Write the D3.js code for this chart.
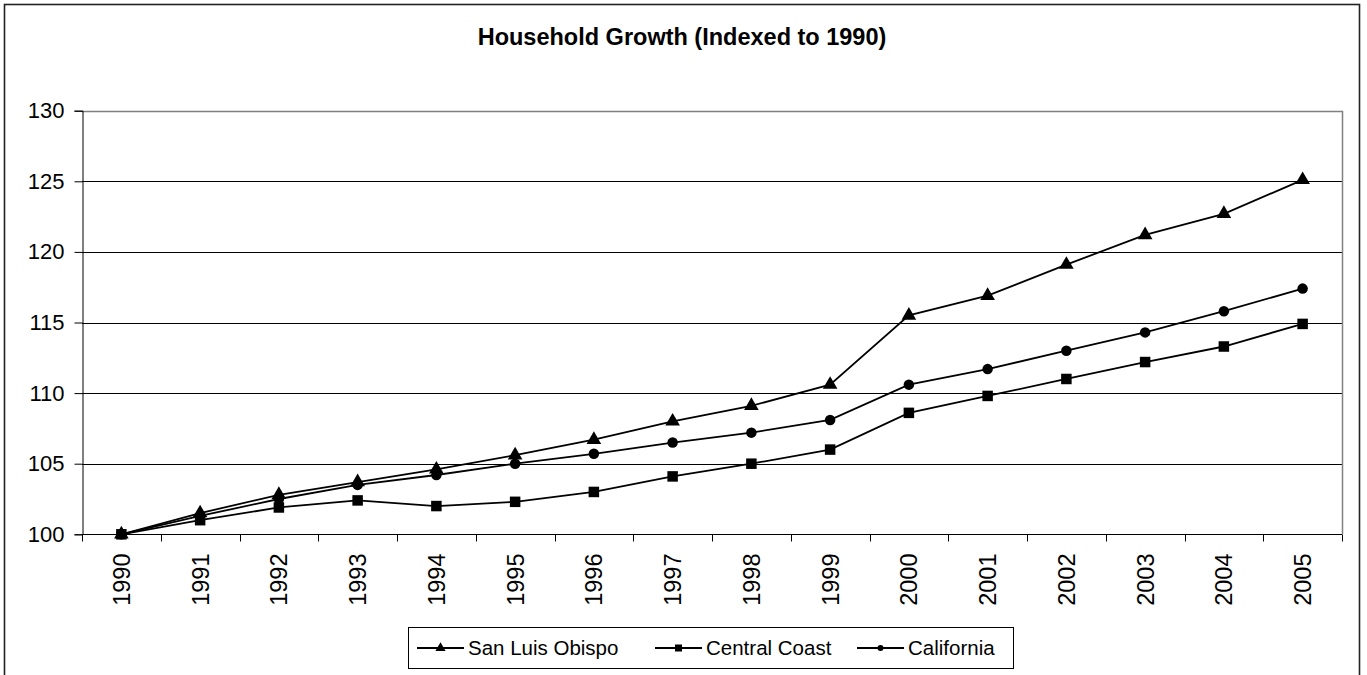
<!DOCTYPE html>
<html>
<head>
<meta charset="utf-8">
<script src="https://cdn.jsdelivr.net/npm/d3@7"></script>
<style>
  body { margin: 0; background: #fff; }
  svg { display: block; font-family: "Liberation Sans", Arial, sans-serif; }
</style>
</head>
<body>
<svg id="chart" width="1367" height="675"></svg>
<script>
const title = "Household Growth (Indexed to 1990)";
const years = ["1990","1991","1992","1993","1994","1995","1996","1997","1998","1999","2000","2001","2002","2003","2004","2005"];
const sanLuisObispo = [100, 101.5, 102.8, 103.7, 104.6, 105.6, 106.7, 108.0, 109.1, 110.6, 115.5, 116.9, 119.1, 121.2, 122.7, 125.1];
const centralCoast  = [100, 101.0, 101.9, 102.4, 102.0, 102.3, 103.0, 104.1, 105.0, 106.0, 108.6, 109.8, 111.0, 112.2, 113.3, 114.9];
const california    = [100, 101.3, 102.5, 103.5, 104.2, 105.0, 105.7, 106.5, 107.2, 108.1, 110.6, 111.7, 113.0, 114.3, 115.8, 117.4];
const yTicks = [100, 105, 110, 115, 120, 125, 130];
const seriesNames = ["San Luis Obispo", "Central Coast", "California"];
const seriesShapes = ["triangle", "square", "circle"];

const series = [
  { name: seriesNames[0], shape: seriesShapes[0], values: sanLuisObispo },
  { name: seriesNames[1], shape: seriesShapes[1], values: centralCoast },
  { name: seriesNames[2], shape: seriesShapes[2], values: california }
];

const svg = d3.select("#chart");
const L = 82, R = 1342, T = 110.7, B = 534.3;

// outer frame
svg.append("rect").attr("x", 4.5).attr("y", 4.5).attr("width", 1355).attr("height", 690)
  .attr("fill", "none").attr("stroke", "#222").attr("stroke-width", 1.6);

svg.append("text").attr("x", 682).attr("y", 45).attr("text-anchor", "middle")
  .attr("font-weight", "bold").attr("font-size", 23.5).attr("fill", "#000").text(title);

const x = d3.scaleBand().domain(years).range([L, R]).paddingInner(0).paddingOuter(0);
const cx = d => x(d) + x.bandwidth() / 2;
const y = d3.scaleLinear().domain([100, 130]).range([B, T]);

// gridlines
svg.append("g").selectAll("line").data(yTicks.slice(1)).join("line")
  .attr("x1", L).attr("x2", R)
  .attr("y1", d => Math.round(y(d)) + 0.5).attr("y2", d => Math.round(y(d)) + 0.5)
  .attr("stroke", d => d === 130 ? "#808080" : "#000").attr("stroke-width", d => d === 130 ? 1.5 : 1);

// plot border right
svg.append("line").attr("x1", R + 0.5).attr("x2", R + 0.5).attr("y1", T).attr("y2", B)
  .attr("stroke", "#808080").attr("stroke-width", 1.5);

// y axis
const yAxis = d3.axisLeft(y).tickValues(yTicks).tickSize(8).tickFormat(d3.format("d"));
const gy = svg.append("g").attr("transform", `translate(${L + 0.5},0)`).call(yAxis);
gy.select(".domain").attr("stroke", "#000");
gy.selectAll(".tick line").attr("stroke", "#000");
gy.selectAll(".tick text").attr("font-size", 22).attr("fill", "#000")
  .attr("font-family", "Liberation Sans, Arial, sans-serif").attr("x", -18);

// x axis (labels at category centres, ticks at category boundaries)
const gx = svg.append("g").attr("transform", `translate(0,${Math.round(B) + 0.5})`);
gx.append("line").attr("x1", L).attr("x2", R).attr("stroke", "#000");
const bounds = years.map(d => x(d)).concat([x(years[years.length - 1]) + x.bandwidth()]);
gx.selectAll("line.tk").data(bounds).join("line").attr("class", "tk")
  .attr("x1", d => Math.round(d) + 0.5).attr("x2", d => Math.round(d) + 0.5)
  .attr("y1", 0).attr("y2", 7).attr("stroke", "#000");
gx.selectAll("text").data(years).join("text")
  .attr("transform", d => `translate(${cx(d)},19) rotate(-90)`)
  .attr("text-anchor", "end").attr("dy", "0.36em")
  .attr("font-size", 23.5).attr("fill", "#000").text(d => d);

// markers
function drawMarker(g, shape, px, py, s) {
  if (shape === "triangle") {
    g.append("path").attr("d", d3.symbol(d3.symbolTriangle, s * s * 0.55)()).attr("transform", `translate(${px},${py})`).attr("fill", "#000");
  } else if (shape === "square") {
    g.append("rect").attr("x", px - s / 2).attr("y", py - s / 2).attr("width", s).attr("height", s).attr("fill", "#000");
  } else {
    g.append("circle").attr("cx", px).attr("cy", py).attr("r", s / 2).attr("fill", "#000");
  }
}

const line = d3.line().x((d, i) => cx(years[i])).y(d => y(d));
const plot = svg.append("g");
series.forEach(s => {
  plot.append("path").attr("d", line(s.values)).attr("fill", "none").attr("stroke", "#000").attr("stroke-width", 1.8);
});
series.forEach(s => {
  const sizes = { triangle: 13, square: 10.5, circle: 10.5 };
  s.values.forEach((v, i) => drawMarker(plot, s.shape, cx(years[i]), y(v), sizes[s.shape]));
});

// legend
const lg = svg.append("g");
lg.append("rect").attr("x", 408.5).attr("y", 627.5).attr("width", 605).attr("height", 41)
  .attr("fill", "#fff").attr("stroke", "#000").attr("stroke-width", 1);
const legendItems = [
  { x0: 417, name: seriesNames[0], shape: seriesShapes[0] },
  { x0: 655, name: seriesNames[1], shape: seriesShapes[1] },
  { x0: 857, name: seriesNames[2], shape: seriesShapes[2] }
];
const ly = 648;
legendItems.forEach(it => {
  lg.append("line").attr("x1", it.x0).attr("x2", it.x0 + 47).attr("y1", ly).attr("y2", ly).attr("stroke", "#000").attr("stroke-width", 1.8);
  const ls = { triangle: 9, square: 7, circle: 6 };
  drawMarker(lg, it.shape, it.x0 + 23.5, ly, ls[it.shape]);
  lg.append("text").attr("x", it.x0 + 51).attr("y", ly).attr("dy", "0.35em")
    .attr("font-size", 20.5).attr("fill", "#000").text(it.name);
});
</script>
</body>
</html>
